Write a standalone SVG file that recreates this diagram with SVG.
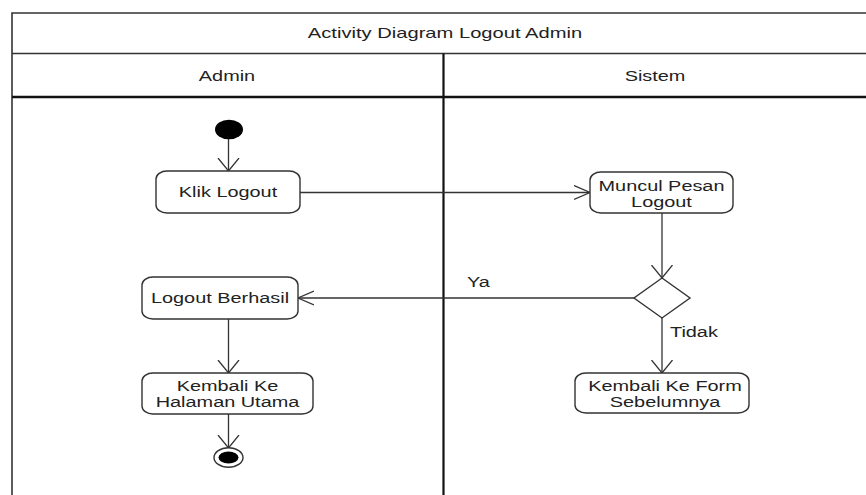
<svg xmlns="http://www.w3.org/2000/svg" width="866" height="495" viewBox="0 0 866 495">
<style>
.t{font-family:"Liberation Sans",Arial,sans-serif;font-size:14px;fill:#222;text-anchor:middle}
.s{text-anchor:start}
.box{fill:#fff;stroke:#333;stroke-width:1.4}
.ln{fill:none;stroke:#333;stroke-width:1.3}
.frame{fill:none;stroke:#333;stroke-width:1.6}
</style>
<defs>
<marker id="arrH" markerWidth="20" markerHeight="20" refX="16" refY="8" orient="auto" markerUnits="userSpaceOnUse">
<path d="M0,1 L16,8 L0,15" fill="none" stroke="#333" stroke-width="1.3"/>
</marker>
<marker id="arrV" markerWidth="24" markerHeight="24" refX="13" refY="11" orient="auto" markerUnits="userSpaceOnUse">
<path d="M0,0.5 L13,11 L0,21.5" fill="none" stroke="#333" stroke-width="1.3"/>
</marker>
</defs>
<rect width="866" height="495" fill="#fff"/>
<g id="frame">
<path class="frame" d="M12,500 V13 H880"/>
<line x1="12" y1="53.5" x2="880" y2="53.5" stroke="#333" stroke-width="1.6"/>
<line x1="12" y1="97" x2="880" y2="97" stroke="#111" stroke-width="2.6"/>
<line x1="443.5" y1="53.5" x2="443.5" y2="500" stroke="#111" stroke-width="2.2"/>
<text class="t" transform="matrix(1.44 0 0 1 445 0)" x="0" y="38">Activity Diagram Logout Admin</text>
<text class="t" transform="matrix(1.42 0 0 1 227 0)" x="0" y="81">Admin</text>
<text class="t" transform="matrix(1.42 0 0 1 655 0)" x="0" y="81">Sistem</text>
</g>
<g id="connectors">
<line class="ln" x1="228.5" y1="139" x2="228.5" y2="171" marker-end="url(#arrV)"/>
<line class="ln" x1="300" y1="192.5" x2="590" y2="192.5" marker-end="url(#arrH)"/>
<line class="ln" x1="662" y1="213" x2="662" y2="278" marker-end="url(#arrV)"/>
<line class="ln" x1="634" y1="298" x2="298" y2="298" marker-end="url(#arrH)"/>
<line class="ln" x1="662" y1="318" x2="662" y2="373" marker-end="url(#arrV)"/>
<line class="ln" x1="228.5" y1="319" x2="228.5" y2="373" marker-end="url(#arrV)"/>
<line class="ln" x1="228.5" y1="414" x2="228.5" y2="448" marker-end="url(#arrV)"/>
<text class="t s" transform="matrix(1.42 0 0 1 467 0)" x="0" y="287">Ya</text>
<text class="t s" transform="matrix(1.42 0 0 1 670 0)" x="0" y="337">Tidak</text>
</g>
<g id="start"><ellipse cx="229" cy="129.5" rx="14" ry="9.8" fill="#000"/></g>
<g id="klik-logout">
<rect class="box" x="156" y="171" width="144" height="42" rx="11" ry="8"/>
<text class="t" transform="matrix(1.42 0 0 1 228 0)" x="0" y="197">Klik Logout</text>
</g>
<g id="muncul-pesan">
<rect class="box" x="590" y="172" width="143" height="41" rx="11" ry="8"/>
<text class="t" transform="matrix(1.42 0 0 1 661.5 0)" y="191"><tspan x="0">Muncul Pesan</tspan><tspan x="0" y="207">Logout</tspan></text>
</g>
<g id="decision">
<polygon points="662,278 690,298 662,318 634,298" fill="#fff" stroke="#333" stroke-width="1.4"/>
</g>
<g id="logout-berhasil">
<rect class="box" x="142" y="277" width="156" height="42" rx="11" ry="8"/>
<text class="t" transform="matrix(1.42 0 0 1 220 0)" x="0" y="303">Logout Berhasil</text>
</g>
<g id="kembali-halaman">
<rect class="box" x="142" y="373" width="171" height="41" rx="11" ry="8"/>
<text class="t" transform="matrix(1.42 0 0 1 227.5 0)" y="391"><tspan x="0">Kembali Ke</tspan><tspan x="0" y="407">Halaman Utama</tspan></text>
</g>
<g id="kembali-form">
<rect class="box" x="575" y="373" width="174" height="40" rx="11" ry="8"/>
<text class="t" transform="matrix(1.42 0 0 1 665 0)" y="391"><tspan x="0">Kembali Ke Form</tspan><tspan x="0" y="407">Sebelumnya</tspan></text>
</g>
<g id="end">
<ellipse cx="228.5" cy="457.5" rx="14.5" ry="9.8" fill="#fff" stroke="#333" stroke-width="1.4"/>
<ellipse cx="228.5" cy="457.5" rx="10" ry="6" fill="#000"/>
</g>
</svg>
